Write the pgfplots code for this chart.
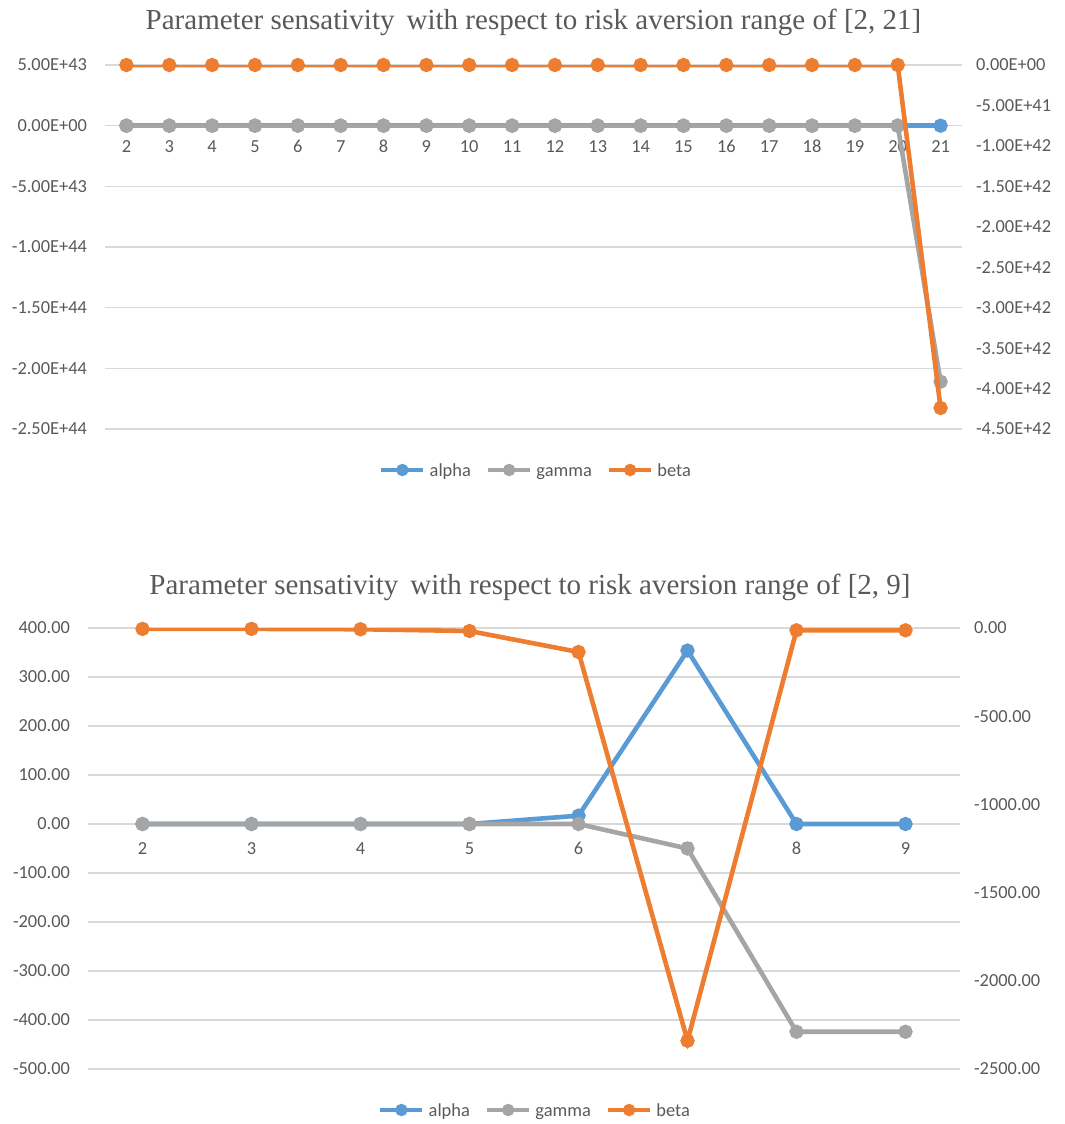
\documentclass[border=0pt]{standalone}
\usepackage{pgfplots}
\pgfplotsset{compat=1.18}
\usepackage{fontspec}
\setmainfont{Carlito}
\newfontfamily\titlefont{Liberation Serif}
\definecolor{cA}{HTML}{5B9BD5}
\definecolor{cG}{HTML}{A5A5A5}
\definecolor{cB}{HTML}{ED7D31}
\definecolor{grd}{HTML}{D9D9D9}
\definecolor{lbl}{HTML}{595959}

\pgfplotsset{
  ser/.style={line width=2.3pt, mark=*, mark size=2.4pt, mark options={solid}},
  excel/.style={
    scale only axis, anchor=south west, scaled y ticks=false,
    axis line style={draw=none}, tick style={draw=none},
    ticklabel style={font=\fontsize{9.2}{11}\selectfont, text=lbl},
    /pgf/number format/assume math mode=true,
  },
  leftax/.style={excel,
    axis x line*=middle, axis y line*=left,
    ymajorgrids, grid style={grd, line width=0.75pt},
    yticklabel style={xshift=-5.5pt},
    title style={font=\titlefont\fontsize{14.5}{17}\selectfont, text=lbl, anchor=base},
  },
  rightax/.style={excel,
    axis x line=none, axis y line*=right,
    yticklabel style={xshift=3.5pt},
    legend columns=3,
    legend style={at={(0.5,0)}, anchor=center, draw=none, fill=none,
      font=\fontsize{9.2}{11}\selectfont, text=lbl,
      /tikz/every even column/.append style={column sep=5.5pt}},
    legend image code/.code={\draw[mark repeat=2,mark phase=2,#1,mark size=1.9pt]
      plot coordinates {(0pt,0pt)(10.5pt,0pt)(21pt,0pt)};},
  },
}

\begin{document}
\begin{tikzpicture}
\useasboundingbox (0,0) rectangle (532.5pt,-562pt);

% ---- top chart: range [2, 21]
\begin{axis}[leftax, at={(52.5pt,-214.5pt)}, width=428.5pt, height=182pt,
  xmin=1.5, xmax=21.5, xtick={2,...,21},
  xticklabel style={anchor=base, yshift=-13.5pt},
  ymin=-2.5e44, ymax=5e43,
  ytick={5e43,0,-5e43,-1e44,-1.5e44,-2e44,-2.5e44},
  yticklabels={5.00E+43,0.00E+00,-5.00E+43,-1.00E+44,-1.50E+44,-2.00E+44,-2.50E+44},
  title={Parameter sensativity\, with respect to risk aversion range of [2, 21]},
  title style={yshift=12pt}]
\addplot[ser, cA] coordinates {(2,0)(3,0)(4,0)(5,0)(6,0)(7,0)(8,0)(9,0)(10,0)(11,0)
  (12,0)(13,0)(14,0)(15,0)(16,0)(17,0)(18,0)(19,0)(20,0)(21,0)};
\addplot[ser, cG] coordinates {(2,0)(3,0)(4,0)(5,0)(6,0)(7,0)(8,0)(9,0)(10,0)(11,0)
  (12,0)(13,0)(14,0)(15,0)(16,0)(17,0)(18,0)(19,0)(20,0)(21,-2.11e44)};
\end{axis}
\begin{axis}[rightax, at={(52.5pt,-214.5pt)}, width=428.5pt, height=182pt,
  xmin=1.5, xmax=21.5,
  ymin=-4.5e42, ymax=0,
  ytick={0,-5e41,-1e42,-1.5e42,-2e42,-2.5e42,-3e42,-3.5e42,-4e42,-4.5e42},
  yticklabels={0.00E+00,-5.00E+41,-1.00E+42,-1.50E+42,-2.00E+42,-2.50E+42,-3.00E+42,-3.50E+42,-4.00E+42,-4.50E+42},
  legend style={yshift=-20.5pt, xshift=1.75pt}]
\addlegendimage{ser, cA}\addlegendentry{\strut alpha}
\addlegendimage{ser, cG}\addlegendentry{\strut gamma}
\addplot[ser, cB] coordinates {(2,0)(3,0)(4,0)(5,0)(6,0)(7,0)(8,0)(9,0)(10,0)(11,0)
  (12,0)(13,0)(14,0)(15,0)(16,0)(17,0)(18,0)(19,0)(20,0)(21,-4.24e42)};
\addlegendentry{\strut beta}
\end{axis}

% ---- bottom chart: range [2, 9]
\begin{axis}[leftax, at={(44pt,-534.5pt)}, width=436pt, height=220.5pt,
  xmin=1.5, xmax=9.5, xtick={2,...,9},
  xticklabel style={anchor=base, yshift=-15pt},
  ymin=-500, ymax=400,
  ytick={400,300,200,100,0,-100,-200,-300,-400,-500},
  yticklabels={400.00,300.00,200.00,100.00,0.00,-100.00,-200.00,-300.00,-400.00,-500.00},
  title={Parameter sensativity\, with respect to risk aversion range of [2, 9]},
  title style={yshift=11pt, xshift=3pt}]
\addplot[ser, cA] coordinates {(2,0)(3,0)(4,0)(5,0)(6,17)(7,354)(8,0)(9,0)};
\addplot[ser, cG] coordinates {(2,0)(3,0)(4,0)(5,0)(6,0)(7,-50)(8,-424)(9,-424)};
\end{axis}
\begin{axis}[rightax, at={(44pt,-534.5pt)}, width=436pt, height=220.5pt,
  xmin=1.5, xmax=9.5,
  ymin=-2500, ymax=0,
  ytick={0,-500,-1000,-1500,-2000,-2500},
  yticklabels={0.00,-500.00,-1000.00,-1500.00,-2000.00,-2500.00},
  legend style={yshift=-20.5pt, xshift=6pt}]
\addlegendimage{ser, cA}\addlegendentry{\strut alpha}
\addlegendimage{ser, cG}\addlegendentry{\strut gamma}
\addplot[ser, cB] coordinates {(2,-5)(3,-5)(4,-7)(5,-17)(6,-136)(7,-2340)(8,-13)(9,-13)};
\addlegendentry{\strut beta}
\end{axis}
\end{tikzpicture}
\end{document}
